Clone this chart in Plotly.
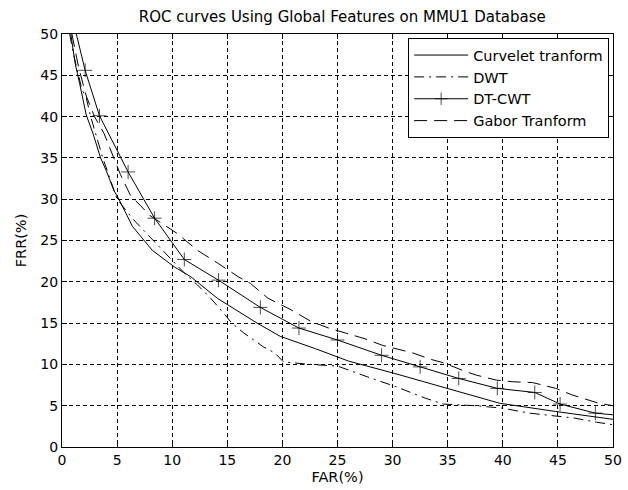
import plotly.graph_objects as go

# ---- data ----
curvelet_far = [0.8, 1.0, 1.2, 1.6, 2.2, 2.8, 3.5, 4.0, 4.7, 5.2, 6.4, 8.2, 10.2, 11.7, 14.1, 17.7, 19.8, 23.0, 26.0, 30.2, 34.6, 39.7, 44.8, 50.0]
curvelet_frr = [50.0, 48.0, 46.4, 44.0, 40.2, 38.0, 35.0, 33.5, 31.1, 29.9, 26.7, 23.8, 21.8, 20.6, 18.0, 15.0, 13.4, 11.9, 10.4, 8.9, 7.2, 5.3, 4.3, 3.35]

dwt_far = [0.7, 1.0, 1.5, 1.8, 2.2, 2.6, 3.7, 5.0, 6.5, 8.3, 9.6, 11.0, 12.3, 13.5, 14.8, 15.4, 16.5, 18.3, 19.3, 20.1, 22.5, 25.0, 27.7, 30.3, 33.0, 34.6, 37.5, 40.0, 42.4, 44.5, 46.5, 48.5, 50.0]
dwt_frr = [50.0, 47.8, 45.0, 43.3, 42.3, 40.0, 35.0, 30.0, 27.5, 25.0, 23.2, 21.2, 19.6, 18.0, 16.0, 15.0, 13.8, 12.1, 11.4, 10.3, 10.0, 9.8, 8.5, 7.3, 5.9, 5.2, 5.0, 4.7, 4.1, 3.8, 3.5, 3.0, 2.7]

dtcwt_far = [1.3, 2.1, 3.4, 6.0, 8.4, 11.1, 14.2, 18.0, 21.5, 25.0, 29.0, 32.5, 36.0, 39.5, 42.9, 45.2, 48.4, 50.0]
dtcwt_frr = [50.0, 45.6, 40.1, 33.3, 27.7, 22.7, 20.2, 16.9, 14.4, 12.95, 11.1, 9.7, 8.3, 7.1, 6.6, 5.2, 4.1, 3.9]

gabor_far = [0.9, 1.5, 2.2, 2.95, 3.8, 4.4, 5.3, 6.2, 8.0, 10.4, 12.3, 14.2, 16.0, 17.1, 18.7, 20.8, 22.6, 24.2, 26.3, 27.5, 29.1, 31.8, 33.5, 34.6, 36.7, 37.6, 39.4, 40.9, 42.7, 44.8, 46.3, 48.7, 50.0]
gabor_frr = [50.0, 46.0, 42.5, 40.0, 38.0, 36.0, 33.0, 30.5, 28.0, 25.9, 23.8, 22.2, 20.6, 19.8, 18.0, 16.6, 15.2, 14.4, 13.6, 13.1, 12.3, 11.4, 10.6, 10.2, 9.1, 8.7, 8.1, 7.9, 7.8, 7.1, 6.3, 5.3, 5.0]

x_ticks = [0, 5, 10, 15, 20, 25, 30, 35, 40, 45, 50]
y_ticks = [0, 5, 10, 15, 20, 25, 30, 35, 40, 45, 50]

FONT = "DejaVu Sans"

# marker only on the interior sample points of DT-CWT (ends are at the axes edges)
dtcwt_sizes = [0] + [10] * (len(dtcwt_far) - 2) + [0]

fig = go.Figure()
fig.add_trace(go.Scatter(x=curvelet_far, y=curvelet_frr, mode="lines", name="Curvelet tranform",
                         line=dict(color="black", width=1)))
fig.add_trace(go.Scatter(x=dwt_far, y=dwt_frr, mode="lines", name="DWT",
                         line=dict(color="black", width=1, dash="10px,5px,2px,5px")))
fig.add_trace(go.Scatter(x=dtcwt_far, y=dtcwt_frr, mode="lines+markers", name="DT-CWT",
                         line=dict(color="black", width=1),
                         marker=dict(symbol="cross-thin", size=dtcwt_sizes, color="black",
                                     line=dict(color="black", width=1))))
fig.add_trace(go.Scatter(x=gabor_far, y=gabor_frr, mode="lines", name="Gabor Tranform",
                         line=dict(color="black", width=1, dash="13px,7px")))

axis_common = dict(
    showgrid=True, gridcolor="black", gridwidth=1, griddash="4px,3px",
    ticks="inside", ticklen=5, tickcolor="black", tickwidth=1,
    showline=True, linecolor="black", linewidth=1, mirror="ticks",
    zeroline=False, ticklabeloverflow="allow",
    tickfont=dict(family=FONT, size=14, color="black"),
)

fig.update_layout(
    width=628, height=490,
    margin=dict(l=62, r=6, t=34, b=43),
    paper_bgcolor="white", plot_bgcolor="white",
    font=dict(family=FONT, size=14, color="black"),
    title=dict(text="ROC curves Using Global Features on MMU1 Database",
               x=0.545, xanchor="center", y=1 - 17 / 490, yanchor="middle",
               font=dict(family=FONT, size=15, color="black")),
    xaxis=dict(range=[0, 50], tickvals=x_ticks, ticktext=[str(v) for v in x_ticks],
               title=dict(text="FAR(%)", font=dict(family=FONT, size=14.5), standoff=5), **axis_common),
    yaxis=dict(range=[0, 50], tickvals=y_ticks, ticktext=[str(v) for v in y_ticks],
               title=dict(text="FRR(%)", font=dict(family=FONT, size=14.5), standoff=10), **axis_common),
    legend=dict(x=0.993, y=0.99, xanchor="right", yanchor="top",
                bgcolor="white", bordercolor="black", borderwidth=1,
                font=dict(family=FONT, size=14.5, color="black"),
                tracegroupgap=0, itemwidth=54),
    showlegend=True,
)

fig.write_html("out.html", config={"displayModeBar": False},
               post_script="document.body.style.margin='0';document.body.style.overflow='hidden';")
